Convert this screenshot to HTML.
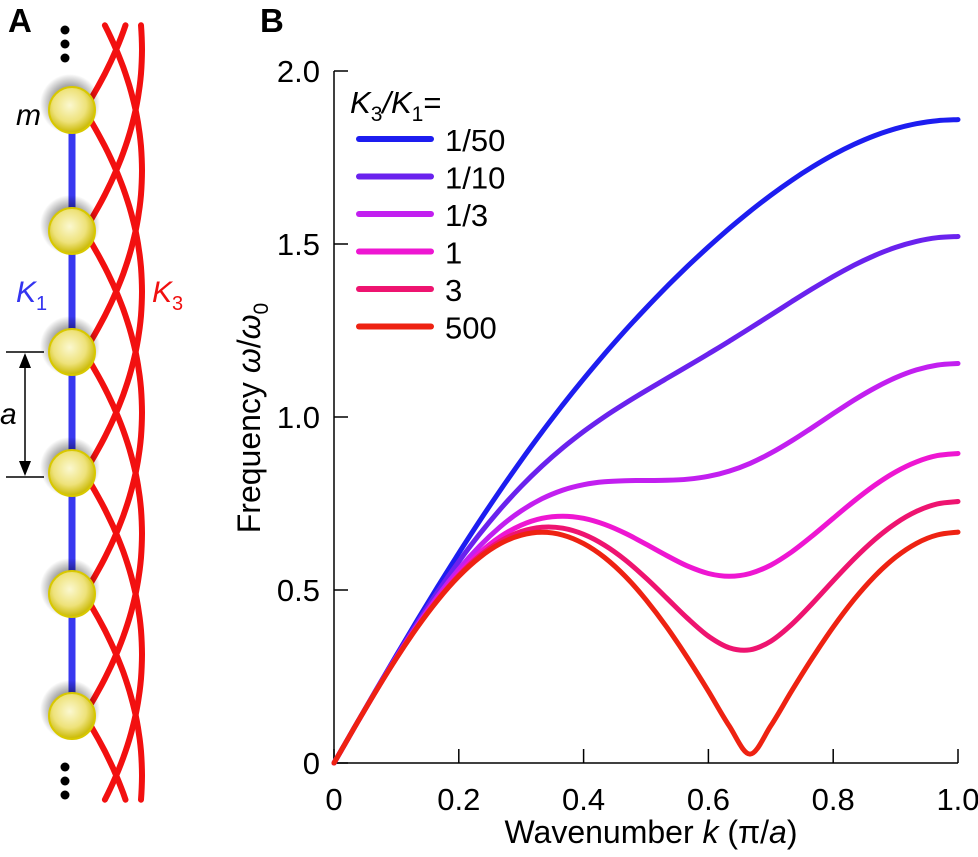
<!DOCTYPE html>
<html><head><meta charset="utf-8"><style>
html,body{margin:0;padding:0;background:#fff;overflow:hidden;width:978px;height:857px;}
svg{display:block;font-family:"Liberation Sans",Arial,sans-serif;}
</style></head><body>
<svg id="fig" width="978" height="857" viewBox="0 0 978 857">
<defs>
<radialGradient id="ball" cx="0.45" cy="0.4" r="0.6">
<stop offset="0" stop-color="#fbf8d0"/><stop offset="0.6" stop-color="#eee27a"/><stop offset="1" stop-color="#c9b800"/>
</radialGradient>
<radialGradient id="shadow" cx="0.5" cy="0.5" r="0.5">
<stop offset="0.5" stop-color="#000" stop-opacity="0.45"/><stop offset="1" stop-color="#000" stop-opacity="0"/>
</radialGradient>
</defs>
<g id="panelA">
<text x="8" y="32" font-size="33" font-weight="bold">A</text>
<g id="springs3"></g>
<line x1="72" y1="110" x2="72" y2="716" stroke="#3838f0" stroke-width="7"/>
<g id="balls"></g>
<g><circle cx="65" cy="30" r="4.5"/><circle cx="65" cy="44" r="4.5"/><circle cx="65" cy="58" r="4.5"/></g>
<g><circle cx="65" cy="767" r="4.5"/><circle cx="65" cy="781" r="4.5"/><circle cx="65" cy="795" r="4.5"/></g>
<text x="16" y="125" font-size="30" font-style="italic">m</text>
<text x="16" y="302" font-size="30" font-style="italic" fill="#3434f0">K<tspan font-size="20" font-style="normal" dy="8">1</tspan></text>
<text x="152" y="302" font-size="30" font-style="italic" fill="#f01010">K<tspan font-size="20" font-style="normal" dy="8">3</tspan></text>
<g>
<line x1="6" y1="352" x2="44" y2="352" stroke="#000" stroke-width="1.5"/>
<line x1="6" y1="477" x2="44" y2="477" stroke="#000" stroke-width="1.5"/>
<line x1="25" y1="364" x2="25" y2="465" stroke="#000" stroke-width="1.5"/>
<polygon points="25,353 19,368 31,368"/><polygon points="25,476 19,461 31,461"/>
<text x="0" y="424" font-size="30" font-style="italic">a</text>
</g>
</g>

<text x="260" y="32" font-size="33" font-weight="bold">B</text>
<g id="axes"></g>
<g id="series"></g>
<g id="legend">
<text x="350" y="113" font-size="31"><tspan font-style="italic">K</tspan><tspan font-size="21" dy="8">3</tspan><tspan dy="-8" font-style="italic">/K</tspan><tspan font-size="21" dy="8">1</tspan><tspan dy="-8">=</tspan></text>
</g>
<text x="260" y="418" font-size="32" transform="rotate(-90 260 418)" text-anchor="middle">Frequency <tspan font-style="italic">ω</tspan>/<tspan font-style="italic">ω</tspan><tspan font-size="21" dy="8">0</tspan></text>
<text x="651" y="843" font-size="32" text-anchor="middle">Wavenumber <tspan font-style="italic">k</tspan> (π/<tspan font-style="italic">a</tspan>)</text>
</svg>
<script>
const NS="http://www.w3.org/2000/svg";
const kValues=[0,1,2,3,4,5,6,7,8,9,10,11,12,13,14,15,16,17,18,19,20,21,22,23,24,25,26,27,28,29,30].map(i=>i/30);
const ratioLabels=["1/50","1/10","1/3","1","3","500"];
const seriesColors=["#1d1df0","#6a22ee","#c21ff0","#ee16d2","#ee1470","#ee2212"];
const w_1_50=[0,.1046,.2086,.3113,.4123,.5109,.6067,.6994,.7887,.8745,.9567,1.0352,1.1102,1.1817,1.2499,1.3148,1.3768,1.4357,1.4917,1.5447,1.5945,1.6410,1.6839,1.7229,1.7577,1.7879,1.8132,1.8332,1.8477,1.8565,1.8595];
const w_1_10=[0,.1045,.2076,.3081,.4047,.4963,.5821,.6615,.7340,.7996,.8584,.9110,.9580,1.0005,1.0394,1.0761,1.1115,1.1467,1.1824,1.2190,1.2566,1.2948,1.3331,1.3705,1.4060,1.4386,1.4670,1.4903,1.5075,1.5182,1.5218];
const w_1_3=[0,.1044,.2068,.3052,.3980,.4834,.5601,.6269,.6833,.7289,.7638,.7886,.8044,.8128,.8160,.8165,.8170,.8202,.8285,.8435,.8660,.8956,.9308,.9697,1.0098,1.0487,1.0839,1.1136,1.1360,1.1500,1.1547];
const w_1=[0,.1043,.2063,.3037,.3943,.4762,.5477,.6074,.6542,.6875,.7071,.7134,.7071,.6899,.6640,.6325,.5993,.5692,.5477,.5396,.5477,.5721,.6099,.6566,.7071,.7571,.8028,.8413,.8703,.8883,.8944];
const w_3=[0,.1043,.2061,.3030,.3927,.4731,.5424,.5988,.6413,.6690,.6814,.6786,.6611,.6299,.5869,.5345,.4764,.4179,.3666,.3331,.3273,.3520,.4002,.4613,.5266,.5896,.6459,.6925,.7273,.7487,.7559];
const w_500=[0,.1043,.2060,.3027,.3919,.4714,.5394,.5940,.6341,.6585,.6668,.6586,.6342,.5942,.5397,.4718,.3924,.3035,.2074,.1072,.0258,.1076,.2078,.3039,.3928,.4722,.5401,.5947,.6347,.6591,.6673];
const xTicks=[0,0.2,0.4,0.6,0.8,1.0];
const xTickLabels=["0","0.2","0.4","0.6","0.8","1.0"];
const yTicks=[0,0.5,1.0,1.5,2.0];
const yTickLabels=["0","0.5","1.0","1.5","2.0"];
const allSeries=[w_1_50,w_1_10,w_1_3,w_1,w_3,w_500];

const X0=334,X1=958,Y0=763,Y1=71;
const xs=v=>X0+(X1-X0)*v;
const ys=v=>Y0-(Y0-Y1)*v/2;
function mk(tag,attrs,parent){const e=document.createElementNS(NS,tag);for(const k in attrs)e.setAttribute(k,attrs[k]);parent.appendChild(e);return e;}

// panel A: K3 arcs sampled and trimmed to visible range
const ballY=[110,231,352,473,594,716];
const sp=document.getElementById('springs3');
for(let j=-3;j<6;j++){
  const ya=110+121*j, yb=ya+363, ym=(ya+yb)/2;
  const pts=[];
  for(let n=0;n<=60;n++){
    const t=n/60, u=1-t;
    const x=u*u*84+2*u*t*200+t*t*84;
    const y=u*u*ya+2*u*t*ym+t*t*yb;
    if(y>=22&&y<=802) pts.push(x.toFixed(1)+','+y.toFixed(1));
  }
  if(pts.length<2) continue;
  const p=mk('polyline',{points:pts.join(' '),fill:'none',stroke:'#f21010','stroke-width':6,'stroke-linecap':'round','stroke-linejoin':'round'},sp);
  
  
}
const bg=document.getElementById('balls');
ballY.forEach(y=>{
  mk('circle',{cx:70,cy:y-6,r:30,fill:'url(#shadow)'},bg);
  const c=mk('circle',{cx:72,cy:y,r:23,fill:'url(#ball)',stroke:'#d8c800','stroke-width':2},bg);
  
  
});

// axes
const ax=document.getElementById('axes');
mk('line',{x1:X0,y1:Y0,x2:X1,y2:Y0,stroke:'#000','stroke-width':1.5},ax);
mk('line',{x1:X0,y1:Y0,x2:X0,y2:Y1,stroke:'#000','stroke-width':1.5},ax);
xTicks.forEach((v,i)=>{
  const x=xs(v);
  mk('line',{x1:x,y1:Y0,x2:x,y2:Y0-14,stroke:'#000','stroke-width':1.5},ax);
  const t=mk('text',{x:x,y:Y0+47,'font-size':31,'text-anchor':'middle'},ax);
  t.textContent=xTickLabels[i];
  
  
});
yTicks.forEach((v,i)=>{
  const y=ys(v);
  mk('line',{x1:X0,y1:y,x2:X0+14,y2:y,stroke:'#000','stroke-width':1.5},ax);
  const t=mk('text',{x:X0-14,y:y+11,'font-size':31,'text-anchor':'end'},ax);
  t.textContent=yTickLabels[i];
  
  
});

// series (smooth Catmull-Rom through data points)
function smoothPath(pts){
  let d='M'+pts[0][0].toFixed(1)+' '+pts[0][1].toFixed(1);
  for(let i=0;i<pts.length-1;i++){
    const p0=pts[Math.max(i-1,0)],p1=pts[i],p2=pts[i+1],p3=pts[Math.min(i+2,pts.length-1)];
    const c1=[p1[0]+(p2[0]-p0[0])/6,p1[1]+(p2[1]-p0[1])/6];
    const c2=[p2[0]-(p3[0]-p1[0])/6,p2[1]-(p3[1]-p1[1])/6];
    d+=` C${c1[0].toFixed(1)} ${c1[1].toFixed(1)} ${c2[0].toFixed(1)} ${c2[1].toFixed(1)} ${p2[0].toFixed(1)} ${p2[1].toFixed(1)}`;
  }
  return d;
}
const sg=document.getElementById('series');
allSeries.forEach((arr,s)=>{
  const pts=arr.map((v,i)=>[xs(kValues[i]),ys(v)]);
  const p=mk('path',{d:smoothPath(pts),fill:'none',stroke:seriesColors[s],'stroke-width':5,'stroke-linejoin':'round','stroke-linecap':'round'},sg);
  
  
});

// legend
const lg=document.getElementById('legend');
ratioLabels.forEach((lab,i)=>{
  const y=139+37.5*i;
  const l=mk('line',{x1:359,y1:y,x2:431,y2:y,stroke:seriesColors[i],'stroke-width':6,'stroke-linecap':'round'},lg);
  
  
  const t=mk('text',{x:445,y:y+12,'font-size':31},lg);
  t.textContent=lab;
  
  
});
</script>
</body></html>
